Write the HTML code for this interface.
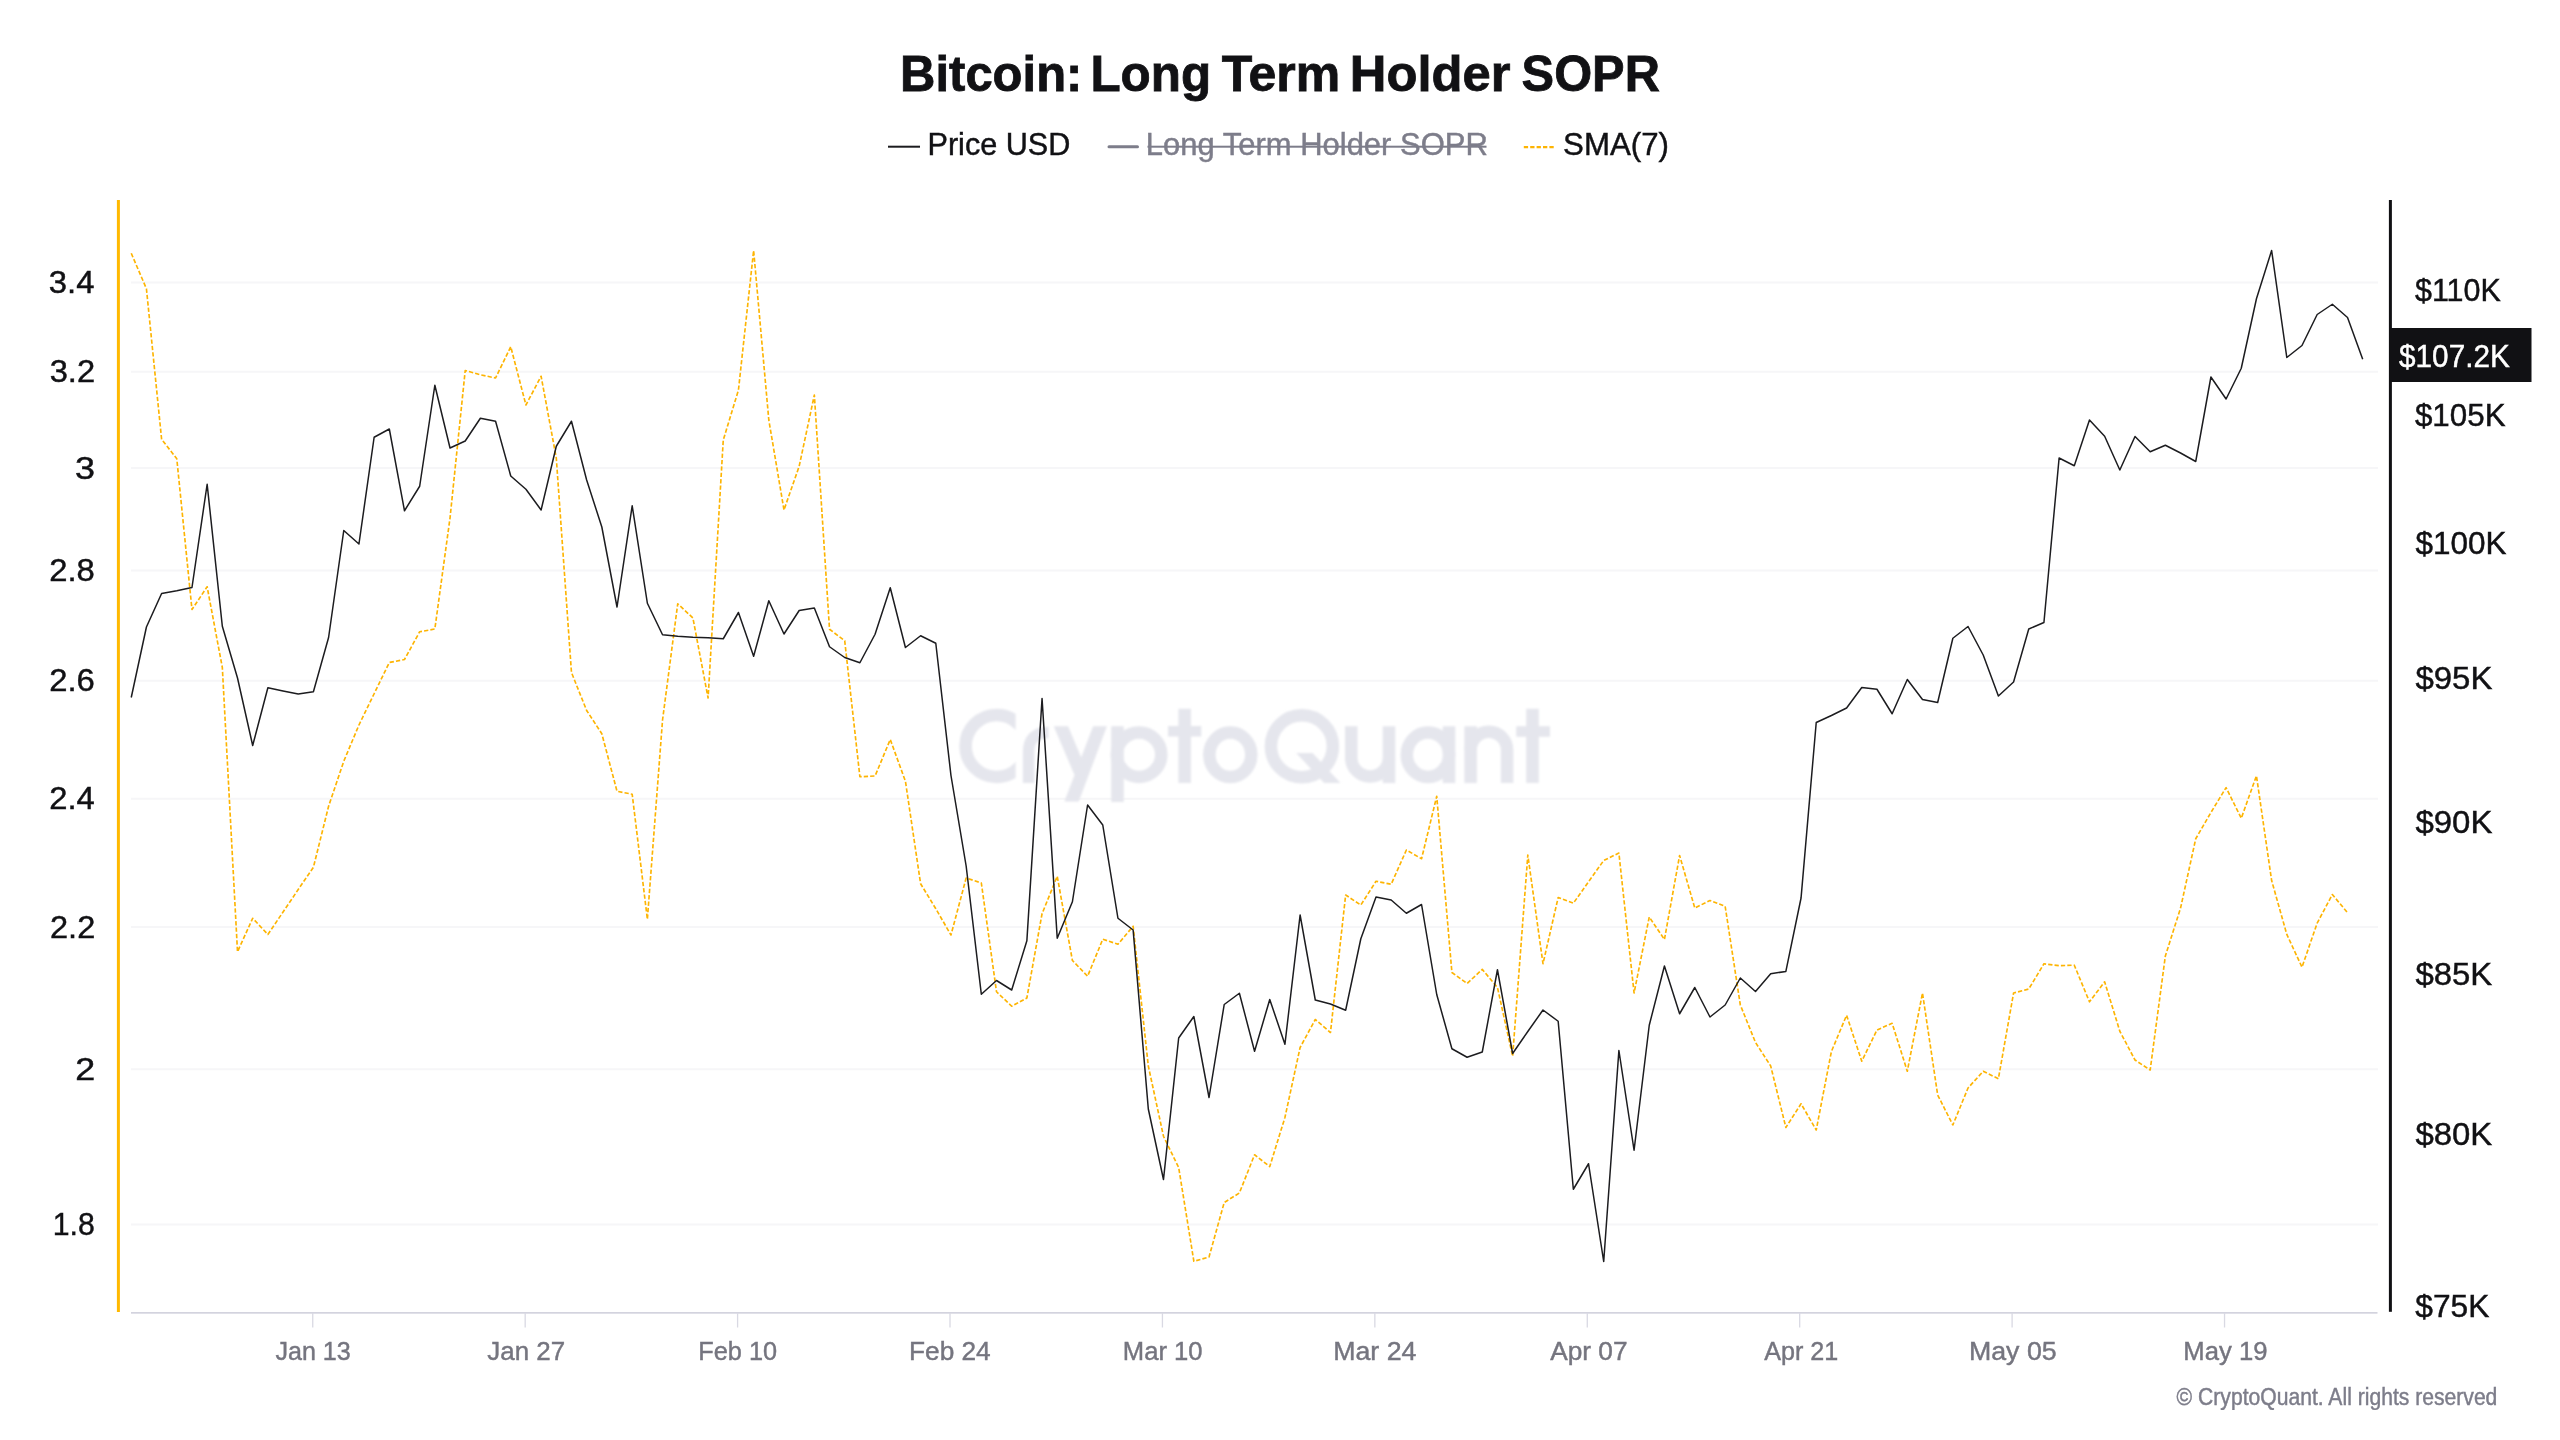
<!DOCTYPE html>
<html><head><meta charset="utf-8"><title>Bitcoin: Long Term Holder SOPR</title>
<style>
html,body{margin:0;padding:0;background:#fff;}
body{width:2560px;height:1440px;overflow:hidden;font-family:"Liberation Sans",sans-serif;}
svg{display:block;}
text{font-family:"Liberation Sans",sans-serif;}
</style></head><body>
<svg width="2560" height="1440" viewBox="0 0 2560 1440">
<defs><filter id="wmblur" x="-5%" y="-20%" width="110%" height="140%"><feGaussianBlur stdDeviation="1.2"/></filter></defs>
<rect x="0" y="0" width="2560" height="1440" fill="#ffffff"/>

<g fill="#f6f6f8">
<rect x="131" y="281.50" width="2247" height="2"/>
<rect x="131" y="370.75" width="2247" height="2"/>
<rect x="131" y="467.00" width="2247" height="2"/>
<rect x="131" y="569.50" width="2247" height="2"/>
<rect x="131" y="679.75" width="2247" height="2"/>
<rect x="131" y="797.75" width="2247" height="2"/>
<rect x="131" y="926.00" width="2247" height="2"/>
<rect x="131" y="1068.25" width="2247" height="2"/>
<rect x="131" y="1223.50" width="2247" height="2"/>
</g>
<clipPath id="cclip"><rect x="940" y="690" width="75.6" height="110"/></clipPath>
<g fill="none" stroke="#e5e6ed" stroke-width="12.5" stroke-linecap="butt" stroke-linejoin="miter" filter="url(#wmblur)">
<circle cx="996.6" cy="745.9" r="31" clip-path="url(#cclip)"/>
<path d="M1028.6 783.1 V752 Q1028.6 732.6 1048.5 732.6" stroke-width="11.5"/>
<path d="M1093.1 726.3 H1106.9 L1078.75 801.6 H1064.4 Z M1053.75 726.3 H1068.1 L1081.3 757.7 L1074.5 775 Z" fill="#e5e6ed" stroke="none"/>
<path d="M1117.5 726.3 V801.9"/><circle cx="1139" cy="754.7" r="22.25"/>
<path d="M1184.7 708.75 V783.1"/><path d="M1168 731.3 H1201.3" stroke-width="10.4"/>
<ellipse cx="1230.3" cy="754.7" rx="21" ry="22.25"/>
<circle cx="1301.9" cy="746.25" r="31"/><path d="M1296.2 753.1 H1312.5 L1340.5 782.9 H1324.2 Z" fill="#e5e6ed" stroke="none"/>
<path d="M1351.25 726.3 V758.6 A18.9 18.9 0 0 0 1389 758.6"/><path d="M1389 726.3 V783.1"/>
<ellipse cx="1428" cy="754.7" rx="21.2" ry="22.25"/><path d="M1449 726.3 V783.1"/>
<path d="M1470.6 726.3 V783.1"/><path d="M1470.6 750.1 A18.25 18.25 0 0 1 1507.1 750.1 V783.1"/>
<path d="M1532.5 708.75 V783.1"/><path d="M1516.25 731.5 H1550" stroke-width="10.6"/>
</g>
<g fill="#d3d3de"><rect x="131" y="1312" width="2246.5" height="1.7"/>
<rect x="312.10" y="1313" width="1.3" height="14.5" fill="#d9d9e3"/>
<rect x="524.52" y="1313" width="1.3" height="14.5" fill="#d9d9e3"/>
<rect x="736.94" y="1313" width="1.3" height="14.5" fill="#d9d9e3"/>
<rect x="949.36" y="1313" width="1.3" height="14.5" fill="#d9d9e3"/>
<rect x="1161.78" y="1313" width="1.3" height="14.5" fill="#d9d9e3"/>
<rect x="1374.20" y="1313" width="1.3" height="14.5" fill="#d9d9e3"/>
<rect x="1586.62" y="1313" width="1.3" height="14.5" fill="#d9d9e3"/>
<rect x="1799.04" y="1313" width="1.3" height="14.5" fill="#d9d9e3"/>
<rect x="2011.46" y="1313" width="1.3" height="14.5" fill="#d9d9e3"/>
<rect x="2223.88" y="1313" width="1.3" height="14.5" fill="#d9d9e3"/>
</g>
<g style="opacity:0.999">
<text x="275.39" y="1360.2" font-size="26.4" fill="#75757f" textLength="75.38" lengthAdjust="spacingAndGlyphs" stroke="#75757f" stroke-width="0.45">Jan 13</text>
<text x="487.37" y="1360.2" font-size="26.4" fill="#75757f" textLength="77.76" lengthAdjust="spacingAndGlyphs" stroke="#75757f" stroke-width="0.45">Jan 27</text>
<text x="698.35" y="1360.2" font-size="26.4" fill="#75757f" textLength="78.78" lengthAdjust="spacingAndGlyphs" stroke="#75757f" stroke-width="0.45">Feb 10</text>
<text x="909.02" y="1360.2" font-size="26.4" fill="#75757f" textLength="81.67" lengthAdjust="spacingAndGlyphs" stroke="#75757f" stroke-width="0.45">Feb 24</text>
<text x="1122.82" y="1360.2" font-size="26.4" fill="#75757f" textLength="79.79" lengthAdjust="spacingAndGlyphs" stroke="#75757f" stroke-width="0.45">Mar 10</text>
<text x="1333.22" y="1360.2" font-size="26.4" fill="#75757f" textLength="83.19" lengthAdjust="spacingAndGlyphs" stroke="#75757f" stroke-width="0.45">Mar 24</text>
<text x="1550.18" y="1360.2" font-size="26.4" fill="#75757f" textLength="77.38" lengthAdjust="spacingAndGlyphs" stroke="#75757f" stroke-width="0.45">Apr 07</text>
<text x="1764.2" y="1360.2" font-size="26.4" fill="#75757f" textLength="74.03" lengthAdjust="spacingAndGlyphs" stroke="#75757f" stroke-width="0.45">Apr 21</text>
<text x="1968.97" y="1360.2" font-size="26.4" fill="#75757f" textLength="87.71" lengthAdjust="spacingAndGlyphs" stroke="#75757f" stroke-width="0.45">May 05</text>
<text x="2183.31" y="1360.2" font-size="26.4" fill="#75757f" textLength="84.16" lengthAdjust="spacingAndGlyphs" stroke="#75757f" stroke-width="0.45">May 19</text>
<text x="48.86" y="293.0" font-size="31.3" fill="#111114" textLength="45.62" lengthAdjust="spacingAndGlyphs" stroke="#111114" stroke-width="0.45">3.4</text>
<text x="49.67" y="382.25" font-size="31.3" fill="#111114" textLength="45.38" lengthAdjust="spacingAndGlyphs" stroke="#111114" stroke-width="0.45">3.2</text>
<text x="75.02" y="478.5" font-size="31.3" fill="#111114" textLength="19.98" lengthAdjust="spacingAndGlyphs" stroke="#111114" stroke-width="0.45">3</text>
<text x="49.22" y="581.0" font-size="31.3" fill="#111114" textLength="45.58" lengthAdjust="spacingAndGlyphs" stroke="#111114" stroke-width="0.45">2.8</text>
<text x="49.22" y="691.25" font-size="31.3" fill="#111114" textLength="45.59" lengthAdjust="spacingAndGlyphs" stroke="#111114" stroke-width="0.45">2.6</text>
<text x="49.22" y="809.25" font-size="31.3" fill="#111114" textLength="45.57" lengthAdjust="spacingAndGlyphs" stroke="#111114" stroke-width="0.45">2.4</text>
<text x="50.03" y="937.5" font-size="31.3" fill="#111114" textLength="45.21" lengthAdjust="spacingAndGlyphs" stroke="#111114" stroke-width="0.45">2.2</text>
<text x="75.36" y="1079.75" font-size="31.3" fill="#111114" textLength="19.94" lengthAdjust="spacingAndGlyphs" stroke="#111114" stroke-width="0.45">2</text>
<text x="52.74" y="1235.0" font-size="31.3" fill="#111114" textLength="42.04" lengthAdjust="spacingAndGlyphs" stroke="#111114" stroke-width="0.45">1.8</text>
<text x="2414.96" y="301" font-size="31.3" fill="#111114" textLength="85.76" lengthAdjust="spacingAndGlyphs" stroke="#111114" stroke-width="0.45">$110K</text>
<text x="2414.94" y="425.6" font-size="31.3" fill="#111114" textLength="90.6" lengthAdjust="spacingAndGlyphs" stroke="#111114" stroke-width="0.45">$105K</text>
<text x="2415.44" y="553.7" font-size="31.3" fill="#111114" textLength="90.91" lengthAdjust="spacingAndGlyphs" stroke="#111114" stroke-width="0.45">$100K</text>
<text x="2415.41" y="689.4" font-size="31.3" fill="#111114" textLength="76.97" lengthAdjust="spacingAndGlyphs" stroke="#111114" stroke-width="0.45">$95K</text>
<text x="2415.41" y="833.4" font-size="31.3" fill="#111114" textLength="76.97" lengthAdjust="spacingAndGlyphs" stroke="#111114" stroke-width="0.45">$90K</text>
<text x="2415.41" y="985.2" font-size="31.3" fill="#111114" textLength="76.77" lengthAdjust="spacingAndGlyphs" stroke="#111114" stroke-width="0.45">$85K</text>
<text x="2415.41" y="1145.0" font-size="31.3" fill="#111114" textLength="76.77" lengthAdjust="spacingAndGlyphs" stroke="#111114" stroke-width="0.45">$80K</text>
<text x="2415.33" y="1317.2" font-size="31.3" fill="#111114" textLength="74.07" lengthAdjust="spacingAndGlyphs" stroke="#111114" stroke-width="0.45">$75K</text>
</g>
<rect x="116.9" y="200" width="3" height="1112" fill="#ffb900"/>
<rect x="2388.9" y="200" width="3" height="1111.8" fill="#111114"/>
<polyline fill="none" stroke="#fdb402" stroke-width="1.65" stroke-dasharray="4.3 2.1" stroke-linejoin="round" points="131.25,253.25 146.43,288.75 161.61,439.25 176.79,458.75 191.97,609.50 207.15,586.75 222.33,667.50 237.51,951.75 252.69,918.25 267.87,934.50 283.05,912.00 298.23,889.50 313.41,867.25 328.59,806.25 343.77,761.25 358.95,725.00 374.13,693.75 389.31,662.50 404.49,659.50 419.67,631.75 434.85,629.00 450.03,518.00 465.21,370.50 480.39,374.75 495.57,378.00 510.75,346.75 525.93,405.00 541.11,376.25 556.29,458.00 571.47,672.50 586.65,710.50 601.83,733.75 617.01,791.25 632.19,794.25 647.37,919.25 662.55,720.00 677.73,603.75 692.91,618.00 708.09,698.00 723.27,440.00 738.45,390.00 753.63,250.50 768.81,420.00 783.99,510.00 799.17,466.25 814.35,395.00 829.53,629.25 844.71,640.75 859.89,776.75 875.07,776.00 890.25,739.50 905.43,781.25 920.61,883.75 935.79,908.75 950.97,935.00 966.15,878.00 981.33,883.00 996.51,991.75 1011.69,1006.25 1026.87,998.00 1042.05,913.75 1057.23,876.25 1072.41,960.50 1087.59,976.25 1102.77,939.25 1117.95,944.25 1133.13,926.25 1148.31,1066.00 1163.49,1136.25 1178.67,1167.50 1193.85,1261.25 1209.03,1257.00 1224.21,1202.50 1239.39,1193.00 1254.57,1154.75 1269.75,1166.60 1284.93,1117.50 1300.11,1047.50 1315.29,1019.50 1330.47,1032.50 1345.65,895.00 1360.83,905.00 1376.01,881.25 1391.19,884.25 1406.37,850.00 1421.55,858.75 1436.73,796.25 1451.91,972.50 1467.09,983.50 1482.27,969.40 1497.45,987.50 1512.63,1056.25 1527.81,855.00 1542.99,963.75 1558.17,897.50 1573.35,903.25 1588.53,881.75 1603.71,860.50 1618.89,853.00 1634.07,993.00 1649.25,917.00 1664.43,939.50 1679.61,855.50 1694.79,908.00 1709.97,900.50 1725.15,906.25 1740.33,1005.00 1755.51,1042.50 1770.69,1066.00 1785.87,1127.50 1801.05,1103.75 1816.23,1130.00 1831.41,1051.50 1846.59,1015.25 1861.77,1061.25 1876.95,1030.00 1892.13,1023.25 1907.31,1071.25 1922.49,993.00 1937.67,1095.00 1952.85,1125.00 1968.03,1088.00 1983.21,1071.25 1998.39,1078.75 2013.57,993.00 2028.75,989.00 2043.93,963.80 2059.11,965.70 2074.29,965.20 2089.47,1001.80 2104.65,981.80 2119.83,1031.25 2135.01,1060.00 2150.19,1070.00 2165.37,955.90 2180.55,908.10 2195.73,838.75 2210.91,812.50 2226.09,787.60 2241.27,818.30 2256.45,775.75 2271.63,880.50 2286.81,934.40 2301.99,967.20 2317.17,923.10 2332.35,894.50 2347.53,912.70"/>
<polyline fill="none" stroke="#1c1c1f" stroke-width="1.5" stroke-linejoin="round" points="131.25,697.50 146.43,627.00 161.61,593.50 176.79,590.75 191.97,587.50 207.15,484.25 222.33,626.25 237.51,678.00 252.69,745.50 267.87,687.75 283.05,691.00 298.23,694.00 313.41,691.75 328.59,637.50 343.77,530.50 358.95,544.00 374.13,437.25 389.31,429.00 404.49,510.75 419.67,486.25 434.85,385.25 450.03,448.00 465.21,441.00 480.39,418.25 495.57,421.25 510.75,476.00 525.93,489.25 541.11,510.00 556.29,446.25 571.47,421.25 586.65,480.00 601.83,527.00 617.01,607.00 632.19,505.75 647.37,603.25 662.55,634.75 677.73,636.25 692.91,637.25 708.09,637.75 723.27,638.75 738.45,612.50 753.63,656.25 768.81,600.75 783.99,634.00 799.17,610.50 814.35,608.00 829.53,646.75 844.71,657.50 859.89,662.75 875.07,634.25 890.25,587.75 905.43,647.50 920.61,635.75 935.79,643.25 950.97,775.50 966.15,866.00 981.33,994.25 996.51,980.50 1011.69,990.00 1026.87,940.75 1042.05,698.50 1057.23,938.25 1072.41,901.75 1087.59,805.00 1102.77,825.00 1117.95,918.25 1133.13,930.00 1148.31,1109.00 1163.49,1179.50 1178.67,1038.00 1193.85,1016.50 1209.03,1097.50 1224.21,1004.50 1239.39,993.25 1254.57,1051.25 1269.75,999.50 1284.93,1044.25 1300.11,915.00 1315.29,1000.00 1330.47,1004.00 1345.65,1010.25 1360.83,938.75 1376.01,897.00 1391.19,900.00 1406.37,913.25 1421.55,904.50 1436.73,994.50 1451.91,1048.75 1467.09,1057.25 1482.27,1052.00 1497.45,969.75 1512.63,1053.50 1527.81,1031.50 1542.99,1010.00 1558.17,1021.25 1573.35,1189.25 1588.53,1163.75 1603.71,1261.50 1618.89,1050.50 1634.07,1150.25 1649.25,1025.25 1664.43,966.00 1679.61,1013.75 1694.79,987.50 1709.97,1017.00 1725.15,1005.00 1740.33,978.00 1755.51,991.50 1770.69,973.75 1785.87,971.40 1801.05,898.00 1816.23,722.50 1831.41,715.50 1846.59,708.00 1861.77,687.50 1876.95,689.25 1892.13,713.75 1907.31,679.50 1922.49,699.50 1937.67,702.50 1952.85,638.25 1968.03,626.50 1983.21,655.00 1998.39,696.00 2013.57,682.00 2028.75,629.00 2043.93,622.50 2059.11,458.00 2074.29,465.75 2089.47,420.00 2104.65,436.25 2119.83,470.00 2135.01,436.50 2150.19,451.75 2165.37,445.25 2180.55,453.00 2195.73,461.50 2210.91,377.00 2226.09,399.00 2241.27,368.25 2256.45,298.75 2271.63,250.50 2286.81,357.50 2301.99,345.50 2317.17,314.50 2332.35,304.25 2347.53,317.50 2362.71,359.25"/>
<rect x="2389" y="328" width="142.5" height="54" fill="#111114"/>
<g style="opacity:0.999">
<text x="2399.07" y="366.5" font-size="31.3" fill="#ffffff" textLength="110.68" lengthAdjust="spacingAndGlyphs" stroke="#ffffff" stroke-width="0.45">$107.2K</text>
<text x="900.11" y="91.25" font-size="50.6" font-weight="700" fill="#111114" textLength="182.26" lengthAdjust="spacingAndGlyphs" stroke="#111114" stroke-width="0.8">Bitcoin:</text>
<text x="1090.43" y="91.25" font-size="50.6" font-weight="700" fill="#111114" textLength="120.68" lengthAdjust="spacingAndGlyphs" stroke="#111114" stroke-width="0.8">Long</text>
<text x="1221.64" y="91.25" font-size="50.6" font-weight="700" fill="#111114" textLength="118.57" lengthAdjust="spacingAndGlyphs" stroke="#111114" stroke-width="0.8">Term</text>
<text x="1349.79" y="91.25" font-size="50.6" font-weight="700" fill="#111114" textLength="160.74" lengthAdjust="spacingAndGlyphs" stroke="#111114" stroke-width="0.8">Holder</text>
<text x="1521.61" y="91.25" font-size="50.6" font-weight="700" fill="#111114" textLength="138.26" lengthAdjust="spacingAndGlyphs" stroke="#111114" stroke-width="0.8">SOPR</text>
<text x="927.46" y="155.1" font-size="31.3" fill="#111114" textLength="142.94" lengthAdjust="spacingAndGlyphs" stroke="#111114" stroke-width="0.45">Price USD</text>
<text x="1145.83" y="155.1" font-size="31.3" fill="#7d7d8a" textLength="341.93" lengthAdjust="spacingAndGlyphs" stroke="#7d7d8a" stroke-width="0.45">Long Term Holder SOPR</text>
<text x="1563.07" y="155.1" font-size="31.3" fill="#111114" textLength="105.88" lengthAdjust="spacingAndGlyphs" stroke="#111114" stroke-width="0.45">SMA(7)</text>
<text x="2176.62" y="1404.5" font-size="23" fill="#7d7d8a" textLength="320.76" lengthAdjust="spacingAndGlyphs" stroke="#7d7d8a" stroke-width="0.45">© CryptoQuant. All rights reserved</text>
</g>
<rect x="888" y="145.7" width="32" height="2" fill="#1c1c1f"/>
<rect x="1107.5" y="145.2" width="31.5" height="3" rx="1.5" fill="#7d7d8a"/>
<rect x="1147.5" y="145.7" width="339" height="2" fill="#7d7d8a"/>
<line x1="1523.8" y1="147.1" x2="1555" y2="147.1" stroke="#fdb402" stroke-width="2.2" stroke-dasharray="4.3 2.1"/>
</svg>
</body></html>
